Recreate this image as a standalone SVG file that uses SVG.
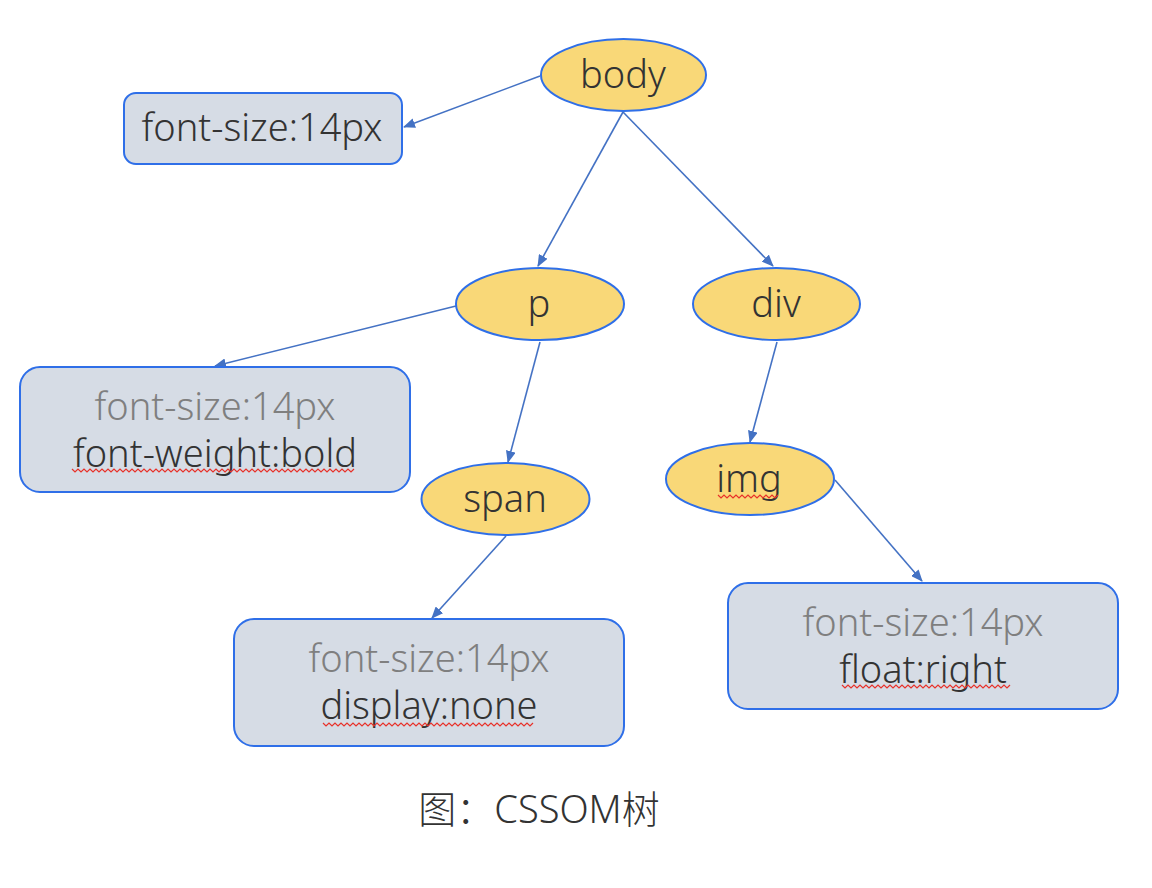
<svg xmlns="http://www.w3.org/2000/svg" width="1152" height="888" viewBox="0 0 1152 888">
<style>
.el{fill:#F9D878;stroke:#2F6FE8;stroke-width:2}
.bx{fill:#D6DCE5;stroke:#2F6FE8;stroke-width:2}
.t{font-family:"Noto Sans","Liberation Sans",sans-serif;font-size:38px;font-weight:300;fill:#333;text-anchor:middle}
.g{fill:#7F7F7F}
.c{stroke:#4472C4;stroke-width:1.6;fill:none;marker-end:url(#ah)}
.w{stroke:#E8322A;stroke-width:1.2;fill:none}
</style>
<defs>
<marker id="ah" viewBox="0 0 12 10" refX="11" refY="5" markerWidth="12" markerHeight="10" markerUnits="userSpaceOnUse" orient="auto">
<path d="M0,0 L12,5 L0,10 z" fill="#4472C4"/>
</marker>
</defs>
<rect width="1152" height="888" fill="#fff"/>
<g id="connectors">
<line class="c" x1="540" y1="76" x2="404" y2="127"/>
<line class="c" x1="623" y1="112" x2="538" y2="266"/>
<line class="c" x1="623" y1="112" x2="773" y2="266"/>
<line class="c" x1="456" y1="306" x2="215" y2="366"/>
<line class="c" x1="540" y1="342" x2="508" y2="462"/>
<line class="c" x1="777" y1="342" x2="750" y2="442"/>
<line class="c" x1="506" y1="536" x2="432" y2="618"/>
<line class="c" x1="835" y1="480" x2="922" y2="581"/>
</g>
<g id="body"><ellipse class="el" cx="623.5" cy="75" rx="82.5" ry="36"/><text class="t" x="623" y="88">body</text></g>
<g id="style-body"><rect class="bx" x="124" y="93" width="278" height="71" rx="12"/><text class="t" x="262" y="141">font-size:14px</text></g>
<g id="p"><ellipse class="el" cx="540" cy="304" rx="84" ry="36"/><text class="t" x="539" y="317">p</text></g>
<g id="div"><ellipse class="el" cx="776.5" cy="304" rx="83.5" ry="36"/><text class="t" x="776" y="317">div</text></g>
<g id="style-p"><rect class="bx" x="20" y="367" width="390" height="125" rx="20"/><text class="t g" x="215" y="420">font-size:14px</text><text class="t" x="215" y="467">font-weight:bold</text><path class="w" d="M72,469 l3,3 l3,-3 l3,3 l3,-3 l3,3 l3,-3 l3,3 l3,-3 l3,3 l3,-3 l3,3 l3,-3 l3,3 l3,-3 l3,3 l3,-3 l3,3 l3,-3 l3,3 l3,-3 l3,3 l3,-3 l3,3 l3,-3 l3,3 l3,-3 l3,3 l3,-3 l3,3 l3,-3 l3,3 l3,-3 l3,3 l3,-3 l3,3 l3,-3 l3,3 l3,-3 l3,3 l3,-3 l3,3 l3,-3 l3,3 l3,-3 l3,3 l3,-3 l3,3 l3,-3 l3,3 l3,-3 l3,3 l3,-3 l3,3 l3,-3 l3,3 l3,-3 l3,3 l3,-3 l3,3 l3,-3 l3,3 l3,-3 l3,3 l3,-3 l3,3 l3,-3 l3,3 l3,-3 l3,3 l3,-3 l3,3 l3,-3 l3,3 l3,-3 l3,3 l3,-3 l3,3 l3,-3 l3,3 l3,-3 l3,3 l3,-3 l3,3 l3,-3 l3,3 l3,-3 l3,3 l3,-3 l3,3 l3,-3 l3,3 l3,-3 l3,3 l3,-3"/></g>
<g id="span"><ellipse class="el" cx="505.5" cy="499" rx="84" ry="36"/><text class="t" x="505" y="512">span</text></g>
<g id="img"><ellipse class="el" cx="750" cy="479" rx="84" ry="36"/><text class="t" x="749" y="492">img</text><path class="w" d="M718,495 l3,3 l3,-3 l3,3 l3,-3 l3,3 l3,-3 l3,3 l3,-3 l3,3 l3,-3 l3,3 l3,-3 l3,3 l3,-3 l3,3 l3,-3 l3,3 l3,-3 l3,3 l3,-3"/></g>
<g id="style-span"><rect class="bx" x="234" y="619" width="390" height="127" rx="20"/><text class="t g" x="429" y="672">font-size:14px</text><text class="t" x="429" y="719">display:none</text><path class="w" d="M323,723 l3,3 l3,-3 l3,3 l3,-3 l3,3 l3,-3 l3,3 l3,-3 l3,3 l3,-3 l3,3 l3,-3 l3,3 l3,-3 l3,3 l3,-3 l3,3 l3,-3 l3,3 l3,-3 l3,3 l3,-3 l3,3 l3,-3 l3,3 l3,-3 l3,3 l3,-3 l3,3 l3,-3 l3,3 l3,-3 l3,3 l3,-3 l3,3 l3,-3 l3,3 l3,-3 l3,3 l3,-3 l3,3 l3,-3 l3,3 l3,-3 l3,3 l3,-3 l3,3 l3,-3 l3,3 l3,-3 l3,3 l3,-3 l3,3 l3,-3 l3,3 l3,-3 l3,3 l3,-3 l3,3 l3,-3 l3,3 l3,-3 l3,3 l3,-3 l3,3 l3,-3 l3,3 l3,-3 l3,3 l3,-3"/></g>
<g id="style-img"><rect class="bx" x="728" y="583" width="390" height="126" rx="20"/><text class="t g" x="923" y="636">font-size:14px</text><text class="t" x="923" y="683">float:right</text><path class="w" d="M842,685 l3,3 l3,-3 l3,3 l3,-3 l3,3 l3,-3 l3,3 l3,-3 l3,3 l3,-3 l3,3 l3,-3 l3,3 l3,-3 l3,3 l3,-3 l3,3 l3,-3 l3,3 l3,-3 l3,3 l3,-3 l3,3 l3,-3 l3,3 l3,-3 l3,3 l3,-3 l3,3 l3,-3 l3,3 l3,-3 l3,3 l3,-3 l3,3 l3,-3 l3,3 l3,-3 l3,3 l3,-3 l3,3 l3,-3 l3,3 l3,-3 l3,3 l3,-3 l3,3 l3,-3 l3,3 l3,-3 l3,3 l3,-3 l3,3 l3,-3 l3,3 l3,-3"/></g>
<g id="caption"><text x="539" y="823" style="font-family:'Noto Sans','Noto Sans CJK SC',sans-serif;font-size:38px;font-weight:300;fill:#333;text-anchor:middle">图：CSSOM树</text></g>
</svg>
